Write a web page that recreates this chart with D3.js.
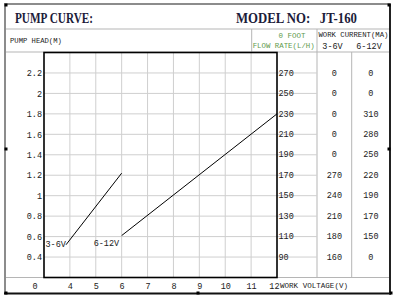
<!DOCTYPE html>
<html>
<head>
<meta charset="utf-8">
<script src="https://cdn.jsdelivr.net/npm/d3@7"></script>
<style>
  body { margin: 0; background: #fff; }
  svg text { font-family: "Liberation Mono", monospace; }
</style>
</head>
<body>
<div class="chart"></div>
<script>
// data
const headTicks = [2.2, 2.0, 1.8, 1.6, 1.4, 1.2, 1.0, 0.8, 0.6, 0.4];
const flowRates = [270, 250, 230, 210, 190, 170, 150, 130, 110, 90];
const current36 = [0, 0, 0, 0, 0, 270, 240, 210, 180, 160];
const current612 = [0, 0, 310, 280, 250, 220, 190, 170, 150, 0];
const voltTicks = [4, 5, 6, 7, 8, 9, 10, 11, 12];
const curve36 = [{ v: 3.85, h: 0.52 }, { v: 6, h: 1.22 }];
const curve612 = [{ v: 6, h: 0.61 }, { v: 12, h: 1.8 }];

const W = 400, H = 297;
const svg = d3.select(".chart").append("svg")
    .attr("width", W)
    .attr("height", H);

// table frame
const L = 5, T = 4, R = 390, B = 293.5;
const rowTitle = 29, rowHead = 52, rowFoot = 277.5;
const colFlow = 251.7, colCur = 317, colCur2 = 351.7;

// scales
const x = d3.scaleLinear().domain([3, 12]).range([44, 277]);
const y = d3.scaleLinear().domain([0.2, 2.4]).range([277.5, 52.5]);
const yFlow = d3.scaleLinear().domain([70, 290]).range([277.5, 52.5]);

const ink = "#222";
const grey = "#b5b5b5";
const hline = (y0, x0, x1, c, w) => svg.append("line")
    .attr("x1", x0).attr("x2", x1).attr("y1", y0).attr("y2", y0)
    .attr("stroke", c).attr("stroke-width", w || 1);
const vline = (x0, y0, y1, c, w) => svg.append("line")
    .attr("x1", x0).attr("x2", x0).attr("y1", y0).attr("y2", y1)
    .attr("stroke", c).attr("stroke-width", w || 1);

// small text helper
const label = (tx, ty, str, size, color) => svg.append("text")
    .attr("x", tx).attr("y", ty)
    .attr("dy", "0.32em")
    .style("font-size", (size || 8) + "px")
    .style("fill", color || ink)
    .text(str);

// inner lines
hline(rowTitle, L, R, grey);
hline(rowHead, L, R, grey);
hline(rowFoot, L, R, grey);
vline(colFlow, rowTitle, rowHead, grey);
vline(colCur, rowTitle, rowFoot, grey);
vline(colCur2, rowHead, rowFoot, grey);

// gridlines
const grid = "#cfcfcf";
svg.append("g")
    .selectAll("line")
    .data(headTicks)
    .join("line")
    .attr("x1", x(3)).attr("x2", colCur)
    .attr("y1", d => y(d)).attr("y2", d => y(d))
    .attr("stroke", grid);
svg.append("g")
    .selectAll("line")
    .data(voltTicks.slice(0, -1))
    .join("line")
    .attr("x1", d => x(d)).attr("x2", d => x(d))
    .attr("y1", y(2.4)).attr("y2", y(0.2))
    .attr("stroke", grid);

// plot box
svg.append("rect")
    .attr("x", x(3)).attr("y", y(2.4))
    .attr("width", x(12) - x(3)).attr("height", y(0.2) - y(2.4))
    .attr("fill", "none").attr("stroke", "#000").attr("stroke-width", 1.6);

// outer border
hline(T, L - 1, R + 1, "#8c8c8c", 2);
vline(L, T, B, "#8c8c8c", 2);
hline(B, L - 1, R + 1, "#111", 2);
vline(R, T, B + 1, "#222", 2);

// handles
const handles = [[6, 5], [389, 5], [6, 149], [389, 149], [6, 293], [198, 293], [391, 293]];
svg.append("g").selectAll("rect")
    .data(handles)
    .join("rect")
    .attr("x", d => d[0] - 1.5).attr("y", d => d[1] - 1.5)
    .attr("width", 3).attr("height", 3)
    .attr("fill", "#000");

// axes (labels only)
const yAxis = svg.append("g")
    .attr("transform", `translate(${x(3)},0)`)
    .call(d3.axisLeft(y).tickValues(headTicks).tickSize(0).tickPadding(2)
        .tickFormat(d => d3.format("")(+d.toFixed(1))));
yAxis.select(".domain").remove();

const xAxis = svg.append("g")
    .attr("transform", `translate(0,${rowFoot})`)
    .call(d3.axisBottom(x).tickValues(voltTicks).tickSize(0).tickPadding(5));
xAxis.select(".domain").remove();
xAxis.selectAll(".tick").filter(d => d === 12).select("text").attr("text-anchor", "end").attr("dx", 2);

svg.selectAll(".tick text")
    .style("font-family", "Liberation Mono, monospace")
    .style("font-size", "8.5px")
    .style("fill", ink);

label(x(3) - 9, rowFoot + 8.5, "0", 8.5).attr("text-anchor", "middle");
label(x(12) + 3, rowFoot + 8.5, "WORK VOLTAGE(V)", 7.5)
    .attr("textLength", 68).attr("lengthAdjust", "spacingAndGlyphs");

// right-hand table
const tbl = svg.append("g")
    .style("font-size", "8.5px")
    .style("fill", ink);
tbl.selectAll(".flow")
    .data(flowRates)
    .join("text")
    .attr("class", "flow")
    .attr("x", x(12) + 1.5)
    .attr("y", d => yFlow(d))
    .attr("dy", "0.32em")
    .text(d => d);
tbl.selectAll(".c36")
    .data(current36)
    .join("text")
    .attr("class", "c36")
    .attr("x", (colCur + colCur2) / 2)
    .attr("y", (d, i) => yFlow(flowRates[i]))
    .attr("dy", "0.32em")
    .attr("text-anchor", "middle")
    .text(d => d);
tbl.selectAll(".c612")
    .data(current612)
    .join("text")
    .attr("class", "c612")
    .attr("x", (colCur2 + R) / 2)
    .attr("y", (d, i) => yFlow(flowRates[i]))
    .attr("dy", "0.32em")
    .attr("text-anchor", "middle")
    .text(d => d);

// curves
const line = d3.line().x(d => x(d.v)).y(d => y(d.h));
[curve36, curve612].forEach(c => {
  svg.append("path")
      .datum(c)
      .attr("d", line)
      .attr("fill", "none")
      .attr("stroke", "#000")
      .attr("stroke-width", 1);
});
label(x(3) + 1.5, y(0.52), "3-6V", 8.5);
label(x(6) - 2.5, y(0.53), "6-12V", 8.5).attr("text-anchor", "end");

// titles
const title = (tx, str, len) => svg.append("text")
    .attr("x", tx).attr("y", 22.5)
    .style("font-family", "Liberation Serif, serif")
    .style("font-size", "14px")
    .style("font-weight", "bold")
    .style("white-space", "pre")
    .style("fill", "#1c1c3a")
    .attr("textLength", len).attr("lengthAdjust", "spacingAndGlyphs")
    .text(str);
title(15, "PUMP CURVE:", 78);
title(236, "MODEL NO:   JT-160", 121);

// header row
label(10, 40.5, "PUMP HEAD(M)", 7.2);
const green = "#5e9a4c";
label(292, 35.5, "0 FOOT", 7.5, green).attr("text-anchor", "middle");
label(252.7, 46, "FLOW RATE(L/H)", 7.5, green)
    .attr("textLength", 62).attr("lengthAdjust", "spacingAndGlyphs");
label(318.5, 35, "WORK CURRENT(MA)", 7.5)
    .attr("textLength", 70).attr("lengthAdjust", "spacingAndGlyphs");
label(332.5, 46, "3-6V", 8.5).attr("text-anchor", "middle");
label(369, 46, "6-12V", 8.5).attr("text-anchor", "middle");
</script>
</body>
</html>
